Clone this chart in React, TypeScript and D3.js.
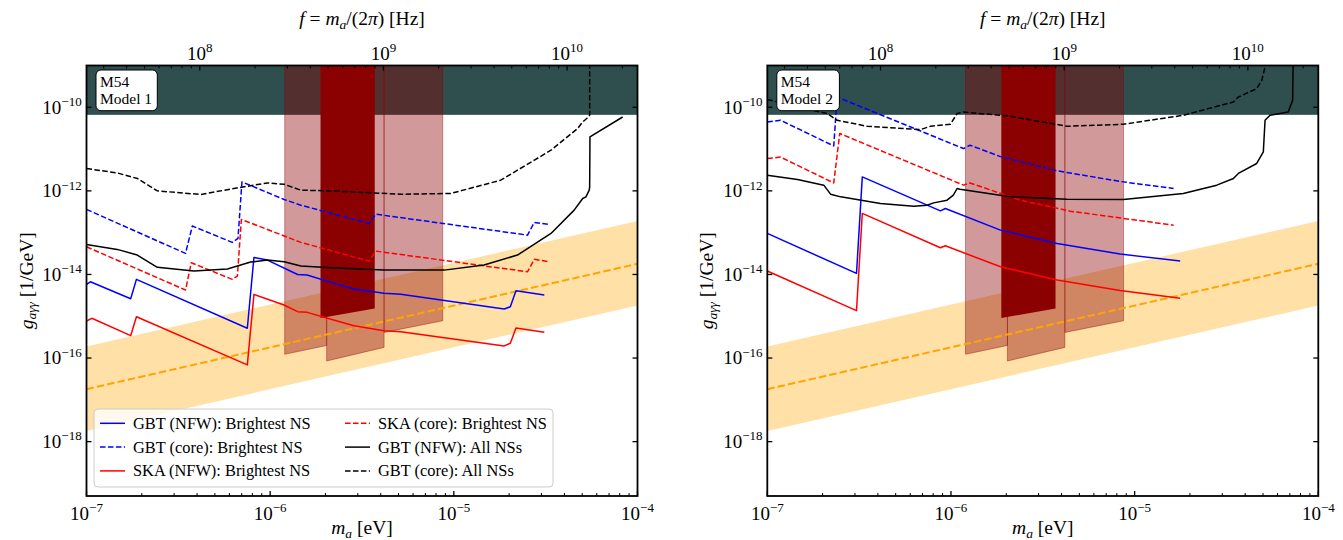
import React from "react";
import * as d3 from "d3";

type Pt = [number, number];

// Axion mass range [eV] and photon coupling range [1/GeV]
const massRange: [number, number] = [1e-7, 1e-4];
const couplingRange: [number, number] = [5e-20, 1e-9];
const hzPerEv = 2.417989e14; // f = m_a / (2 pi hbar)
const castLimit = 6.6e-11;

// QCD axion band, given at the ends of the mass range
const qcdMass = [1e-7, 1e-4];
const qcdUpper = [1.9e-16, 1.9e-13];
const qcdCentral = [1.8e-17, 1.8e-14];
const qcdLower = [1.8e-18, 1.8e-15];

// Receiver bands (mass edges, lower coupling edge at each mass edge)
const bandMass = [
  [1.2e-6, 2.03e-6],
  [2.03e-6, 4.17e-6],
  [4.17e-6, 8.7e-6],
];
const bandFloor = [
  [1.23e-16, 2.0e-16],
  [8.5e-17, 1.8e-16],
  [4.1e-16, 7.8e-16],
];
const coreBandMass = [1.88e-6, 3.71e-6];
const coreBandFloor = [9.1e-16, 1.53e-15];

const massTicks = [1e-7, 1e-6, 1e-5, 1e-4];
const couplingTicks = [1e-18, 1e-16, 1e-14, 1e-12, 1e-10];
const freqTicks = [1e8, 1e9, 1e10];

const seriesLabels = [
  "GBT (NFW): Brightest NS",
  "GBT (core): Brightest NS",
  "SKA (NFW): Brightest NS",
  "SKA (core): Brightest NS",
  "GBT (NFW): All NSs",
  "GBT (core): All NSs",
];
const seriesColors = ["#0000ff", "#0000ff", "#ff0000", "#ff0000", "#000000", "#000000"];
const seriesDashed = [false, true, false, true, false, true];

// ---- M54, Model 1 ----
const m1GbtNfwBright: Pt[] = [
  [1e-7, 5.79e-15], [1.05e-7, 6.69e-15], [1.74e-7, 2.63e-15], [1.87e-7, 7.64e-15],
  [7.51e-7, 5.15e-16], [8.16e-7, 2.56e-14], [9.66e-7, 2.21e-14], [1.41e-6, 1.0e-14],
  [1.59e-6, 9.67e-15], [2.23e-6, 6.12e-15], [2.86e-6, 4.48e-15], [4.17e-6, 3.53e-15],
  [5.14e-6, 3.34e-15], [1.88e-5, 1.49e-15], [2.03e-5, 1.69e-15], [2.18e-5, 4.08e-15],
  [3.11e-5, 3.22e-15],
];
const m1GbtCoreBright: Pt[] = [
  [1e-7, 3.6e-13], [3.46e-7, 3.19e-14], [3.77e-7, 1.44e-13], [6.22e-7, 5.85e-14],
  [6.68e-7, 7.29e-14], [7.02e-7, 1.64e-12], [1.19e-6, 6.24e-13], [1.47e-6, 4.55e-13],
  [3.45e-6, 1.66e-13], [3.76e-6, 2.77e-13], [2.52e-5, 8.73e-14], [2.74e-5, 1.76e-13],
  [3.31e-5, 1.57e-13],
];
const m1SkaNfwBright: Pt[] = [
  [1e-7, 7.71e-16], [1.07e-7, 8.93e-16], [1.74e-7, 3.43e-16], [1.87e-7, 9.75e-16],
  [7.51e-7, 6.84e-17], [8.16e-7, 3.34e-15], [1.19e-6, 1.86e-15], [1.41e-6, 1.29e-15],
  [1.59e-6, 1.24e-15], [2.05e-6, 8.93e-16], [2.86e-6, 5.94e-16], [4.17e-6, 4.52e-16],
  [5.14e-6, 4.28e-16], [1.88e-5, 1.95e-16], [2.03e-5, 2.26e-16], [2.18e-5, 5.24e-16],
  [3.11e-5, 4.13e-16],
];
const m1SkaCoreBright: Pt[] = [
  [1e-7, 4.59e-14], [3.46e-7, 4.24e-15], [3.72e-7, 1.91e-14], [6.22e-7, 7.64e-15],
  [6.63e-7, 9.16e-15], [6.97e-7, 2.07e-13], [1.47e-6, 5.85e-14], [3.45e-6, 2.09e-14],
  [3.76e-6, 3.62e-14], [2.52e-5, 1.16e-14], [2.74e-5, 2.3e-14], [3.31e-5, 2.01e-14],
];
const m1GbtNfwAll: Pt[] = [
  [1e-7, 5.24e-14], [1.47e-7, 3.98e-14], [1.89e-7, 2.91e-14], [2.43e-7, 1.48e-14],
  [3.84e-7, 1.21e-14], [5.85e-7, 1.35e-14], [7.83e-7, 1.98e-14], [9.66e-7, 2.21e-14],
  [1.19e-6, 2.01e-14], [1.47e-6, 1.59e-14], [2.14e-6, 1.45e-14], [4.17e-6, 1.27e-14],
  [8.86e-6, 1.27e-14], [1.46e-5, 1.68e-14], [2.22e-5, 2.91e-14], [3.38e-5, 9.6e-14],
  [4.52e-5, 3.46e-13], [5.03e-5, 6.58e-13], [5.24e-5, 7.19e-13], [5.46e-5, 1.04e-12],
  [5.49e-5, 1.25e-12], [5.51e-5, 1.95e-11], [8.3e-5, 5.86e-11],
];
const m1GbtCoreAll: Pt[] = [
  [1e-7, 3.43e-12], [1.47e-7, 2.69e-12], [1.89e-7, 1.98e-12], [2.43e-7, 1.0e-12],
  [4.18e-7, 8.2e-13], [6.35e-7, 1.14e-12], [9.66e-7, 1.55e-12], [1.19e-6, 1.44e-12],
  [1.47e-6, 1.04e-12], [2.14e-6, 1.0e-12], [5.14e-6, 8.3e-13], [9.63e-6, 8.67e-13],
  [1.8e-5, 1.8e-12], [3.38e-5, 9.4e-12], [4.72e-5, 3.1e-11], [5.03e-5, 4.46e-11],
  [5.31e-5, 5.46e-11], [5.49e-5, 6.44e-11], [5.49e-5, 1.5e-9],
];

// ---- M54, Model 2 ----
const m2GbtNfwBright: Pt[] = [
  [1e-7, 9.6e-14], [3.06e-7, 1.06e-14], [3.29e-7, 2.16e-12], [8.76e-7, 3.33e-13],
  [9.32e-7, 3.79e-13], [1.86e-6, 1.15e-13], [3.78e-6, 5.53e-14], [8.34e-6, 3.07e-14],
  [1.77e-5, 2.09e-14],
];
const m2GbtCoreBright: Pt[] = [
  [1e-7, 4.46e-11], [1.18e-7, 4.9e-11], [2.3e-7, 1.19e-11], [2.4e-7, 1.76e-10],
  [1.17e-6, 1.03e-11], [1.27e-6, 1.24e-11], [1.86e-6, 6.6e-12], [3.78e-6, 3.02e-12],
  [8.34e-6, 1.68e-12], [1.63e-5, 1.14e-12],
];
const m2SkaNfwBright: Pt[] = [
  [1e-7, 1.21e-14], [3.06e-7, 1.36e-15], [3.29e-7, 2.89e-13], [8.76e-7, 4.35e-14],
  [9.32e-7, 4.85e-14], [1.86e-6, 1.53e-14], [3.78e-6, 7.35e-15], [8.34e-6, 4.12e-15],
  [1.77e-5, 2.69e-15],
];
const m2SkaCoreBright: Pt[] = [
  [1e-7, 5.94e-12], [1.18e-7, 6.43e-12], [2.3e-7, 1.55e-12], [2.48e-7, 2.36e-11],
  [1.17e-6, 1.37e-12], [1.27e-6, 1.55e-12], [2.38e-6, 6.0e-13], [4.46e-6, 3.27e-13],
  [1.63e-5, 1.51e-13],
];
const m2GbtNfwAll: Pt[] = [
  [1e-7, 2.37e-12], [1.46e-7, 1.87e-12], [2.03e-7, 1.37e-12], [2.21e-7, 8.34e-13],
  [2.51e-7, 7.19e-13], [4.13e-7, 5.0e-13], [6.27e-7, 4.31e-13], [7.41e-7, 4.55e-13],
  [8.05e-7, 5.16e-13], [9.52e-7, 6.0e-13], [1.03e-6, 7.89e-13], [1.08e-6, 1.14e-12],
  [1.12e-6, 1.1e-12], [2.1e-6, 7.19e-13], [4.28e-6, 6.34e-13], [8.69e-6, 6.24e-13],
  [1.84e-5, 8.67e-13], [2.8e-5, 1.37e-12], [3.45e-5, 1.98e-12], [3.67e-5, 2.61e-12],
  [4.62e-5, 4.52e-12], [5.02e-5, 8.55e-12], [5.13e-5, 4.89e-11], [5.46e-5, 6.44e-11],
  [6.86e-5, 7.72e-11], [7.25e-5, 1.47e-10], [7.3e-5, 1.5e-9],
];
const m2GbtCoreAll: Pt[] = [
  [1e-7, 1.53e-10], [2.12e-7, 7.07e-11], [2.4e-7, 4.89e-11], [3.5e-7, 3.51e-11],
  [6.82e-7, 2.93e-11], [7.73e-7, 3.51e-11], [9.93e-7, 3.93e-11], [1.08e-6, 7.07e-11],
  [1.17e-6, 7.72e-11], [2.1e-6, 6.1e-11], [4.28e-6, 3.51e-11], [8.69e-6, 3.93e-11],
  [1.84e-5, 6.44e-11], [3.45e-5, 1.34e-10], [3.67e-5, 1.76e-10], [4.62e-5, 2.8e-10],
  [4.92e-5, 4.42e-10], [5.13e-5, 9.2e-10], [5.15e-5, 1.5e-9],
];

const model1Curves = [m1GbtNfwBright, m1GbtCoreBright, m1SkaNfwBright, m1SkaCoreBright, m1GbtNfwAll, m1GbtCoreAll];
const model2Curves = [m2GbtNfwBright, m2GbtCoreBright, m2SkaNfwBright, m2SkaCoreBright, m2GbtNfwAll, m2GbtCoreAll];

// ---- layout ----
const W = 1343;
const H = 540;
const PANEL_W = 551;
const PLOT_TOP = 65.5;
const PLOT_BOTTOM = 496;
const FONT = "'Liberation Serif', 'DejaVu Serif', serif";
const DASH = "5.55 2.4";

const expText = (v: number) => {
  const n = Math.round(Math.log10(v));
  return n < 0 ? "\u2212" + Math.abs(n) : String(n);
};

function PowLabel({ x, y, v, anchor }: { x: number; y: number; v: number; anchor: string }) {
  return (
    <text x={x} y={y} textAnchor={anchor} fontSize={19} fontFamily={FONT} fill="#000">
      10
      <tspan dy={-7.5} fontSize={13}>
        {expText(v)}
      </tspan>
    </text>
  );
}

function Panel({
  left,
  model,
  curves,
  showLegend,
  boxWidth,
}: {
  left: number;
  model: string;
  curves: Pt[][];
  showLegend: boolean;
  boxWidth: number;
}) {
  const right = left + PANEL_W;
  const x = d3.scaleLog().domain(massRange).range([left, right]);
  const y = d3.scaleLog().domain(couplingRange).range([PLOT_BOTTOM, PLOT_TOP]);
  const line = d3.line<Pt>().x((d) => x(d[0])).y((d) => y(d[1]));
  const clipId = `plot-clip-${model.replace(/\s/g, "")}`;
  const ceiling = couplingRange[1] * 3;

  const bandPath = (mass: number[], floor: number[]) =>
    line([
      [mass[0], floor[0]],
      [mass[1], floor[1]],
      [mass[1], ceiling],
      [mass[0], ceiling],
    ]) + "Z";

  const qcdPath =
    line([
      [qcdMass[0], qcdLower[0]],
      [qcdMass[1], qcdLower[1]],
      [qcdMass[1], qcdUpper[1]],
      [qcdMass[0], qcdUpper[0]],
    ]) + "Z";

  const massMinor: number[] = [];
  for (let n = -7; n <= -5; n++) for (let k = 2; k <= 9; k++) massMinor.push(k * Math.pow(10, n));
  const freqMinor: number[] = [];
  for (let n = 7; n <= 10; n++)
    for (let k = 2; k <= 9; k++) {
      const m = (k * Math.pow(10, n)) / hzPerEv;
      if (m >= massRange[0] && m <= massRange[1]) freqMinor.push(m);
    }

  const cx = left + PANEL_W / 2;
  const cy = (PLOT_TOP + PLOT_BOTTOM) / 2;

  return (
    <g>
      <defs>
        <clipPath id={clipId}>
          <rect x={left} y={PLOT_TOP} width={PANEL_W} height={PLOT_BOTTOM - PLOT_TOP} />
        </clipPath>
      </defs>
      <g clipPath={`url(#${clipId})`}>
        {/* CAST bound */}
        <rect
          x={left}
          y={PLOT_TOP}
          width={PANEL_W}
          height={y(castLimit) - PLOT_TOP}
          fill="#2f4f4f"
        />
        {/* QCD axion band */}
        <path d={qcdPath} fill="orange" fillOpacity={0.35} stroke="none" />
        {/* receiver bands */}
        {bandMass.map((mass, i) => (
          <path
            key={`band${i}`}
            d={bandPath(mass, bandFloor[i])}
            fill="#8b0000"
            fillOpacity={0.4}
            stroke="#8b0000"
            strokeOpacity={0.4}
            strokeWidth={1}
          />
        ))}
        <path d={bandPath(coreBandMass, coreBandFloor)} fill="#8b0000" stroke="none" />
        {/* QCD central line */}
        <path
          d={line([
            [qcdMass[0], qcdCentral[0]],
            [qcdMass[1], qcdCentral[1]],
          ]) ?? ""}
          fill="none"
          stroke="orange"
          strokeWidth={2}
          strokeDasharray="7.4 3.2"
        />
        {curves.map((c, i) => (
          <path
            key={i}
            d={line(c) ?? ""}
            fill="none"
            stroke={seriesColors[i]}
            strokeWidth={1.5}
            strokeDasharray={seriesDashed[i] ? DASH : undefined}
            strokeLinejoin="round"
          />
        ))}
      </g>

      {/* frame */}
      <rect
        x={left}
        y={PLOT_TOP}
        width={PANEL_W}
        height={PLOT_BOTTOM - PLOT_TOP}
        fill="none"
        stroke="#000"
        strokeWidth={1.8}
      />

      {/* bottom mass axis */}
      {massTicks.map((t) => (
        <g key={`mt${t}`}>
          <line x1={x(t)} x2={x(t)} y1={PLOT_BOTTOM} y2={PLOT_BOTTOM - 5} stroke="#000" strokeWidth={1.3} />
          <PowLabel x={x(t)} y={519.5} v={t} anchor="middle" />
        </g>
      ))}
      {massMinor.map((t) => (
        <line key={`mm${t}`} x1={x(t)} x2={x(t)} y1={PLOT_BOTTOM} y2={PLOT_BOTTOM - 3} stroke="#000" strokeWidth={1} />
      ))}

      {/* top frequency axis */}
      {freqTicks.map((f) => (
        <g key={`ft${f}`}>
          <line x1={x(f / hzPerEv)} x2={x(f / hzPerEv)} y1={PLOT_TOP} y2={PLOT_TOP + 5} stroke="#000" strokeWidth={1.3} />
          <PowLabel x={x(f / hzPerEv)} y={59.5} v={f} anchor="middle" />
        </g>
      ))}
      {freqMinor.map((m) => (
        <line key={`fm${m}`} x1={x(m)} x2={x(m)} y1={PLOT_TOP} y2={PLOT_TOP + 3} stroke="#000" strokeWidth={1} />
      ))}

      {/* coupling axis */}
      {couplingTicks.map((t) => (
        <g key={`ct${t}`}>
          <line x1={left} x2={left + 5} y1={y(t)} y2={y(t)} stroke="#000" strokeWidth={1.3} />
          <line x1={right} x2={right - 5} y1={y(t)} y2={y(t)} stroke="#000" strokeWidth={1.3} />
          <PowLabel x={left - 4.8} y={y(t) + 6.3} v={t} anchor="end" />
        </g>
      ))}

      {/* axis titles */}
      <text x={cx} y={534} textAnchor="middle" fontSize={19.5} fontFamily={FONT}>
        <tspan fontStyle="italic">m</tspan>
        <tspan fontStyle="italic" fontSize={13.5} dy={3.5}>a</tspan>
        <tspan dy={-3.5}> [eV]</tspan>
      </text>
      <text x={cx} y={25} textAnchor="middle" fontSize={19.5} fontFamily={FONT}>
        <tspan fontStyle="italic">f</tspan>
        <tspan> = </tspan>
        <tspan fontStyle="italic">m</tspan>
        <tspan fontStyle="italic" fontSize={13.5} dy={3.5}>a</tspan>
        <tspan dy={-3.5}>/(2</tspan>
        <tspan fontStyle="italic">π</tspan>
        <tspan>) [Hz]</tspan>
      </text>
      <text
        transform={`translate(${left - 54},${cy}) rotate(-90)`}
        textAnchor="middle"
        fontSize={19.5}
        fontFamily={FONT}
      >
        <tspan fontStyle="italic">g</tspan>
        <tspan fontStyle="italic" fontSize={13.5} dy={3.5}>aγγ</tspan>
        <tspan dy={-3.5}> [1/GeV]</tspan>
      </text>

      {/* model tag */}
      <rect x={left + 9.5} y={70} width={boxWidth} height={40.7} rx={5} fill="#fff" stroke="#000" strokeWidth={1} />
      <text x={left + 13.5} y={87} fontSize={15.5} fontFamily={FONT}>M54</text>
      <text x={left + 13.5} y={104} fontSize={15.5} fontFamily={FONT}>{model}</text>

      {showLegend && (
        <g>
          <rect
            x={left + 7.5}
            y={409}
            width={459}
            height={78}
            rx={4}
            fill="#fff"
            fillOpacity={0.8}
            stroke="#cccccc"
            strokeWidth={1}
          />
          {seriesLabels.map((lab, i) => {
            const col = Math.floor(i / 3);
            const row = i % 3;
            const hx = left + (col === 0 ? 13.5 : 258.5);
            const ry = 423.3 + row * 23.8;
            return (
              <g key={lab}>
                <line
                  x1={hx}
                  x2={hx + 25}
                  y1={ry}
                  y2={ry}
                  stroke={seriesColors[i]}
                  strokeWidth={1.5}
                  strokeDasharray={seriesDashed[i] ? DASH : undefined}
                />
                <text x={hx + 33} y={ry + 5.5} fontSize={16.4} fontFamily={FONT}>
                  {lab}
                </text>
              </g>
            );
          })}
        </g>
      )}
    </g>
  );
}

export default function App() {
  return (
    <svg
      width={W}
      height={H}
      viewBox={`0 0 ${W} ${H}`}
      style={{ position: "absolute", left: 0, top: 0, background: "#fff" }}
    >
      <rect width={W} height={H} fill="#fff" />
      <Panel left={86.5} model="Model 1" curves={model1Curves} showLegend={true} boxWidth={61.3} />
      <Panel left={767.3} model="Model 2" curves={model2Curves} showLegend={false} boxWidth={62.6} />
    </svg>
  );
}
